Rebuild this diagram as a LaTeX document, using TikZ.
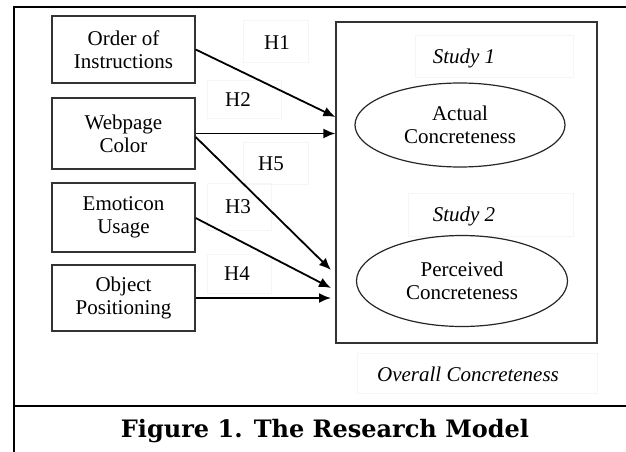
\documentclass[tikz,border=0pt]{standalone}
\usepackage{fontspec}
\setmainfont{Liberation Serif}
\newfontfamily\capfont{DejaVu Serif}
\usetikzlibrary{arrows.meta,shapes.geometric}
\begin{document}
\begin{tikzpicture}[x=1pt,y=-1pt,
  every node/.style={font=\fontsize{21}{23}\selectfont, align=center, inner sep=0pt},
  factor/.style={draw=black!80, line width=1.3pt, minimum width=143pt},
  lbl/.style={draw=black!4, line width=0.6pt},
  conn/.style={line width=1.8pt, -{Latex[length=12pt,width=10pt]}},
  oval/.style={ellipse, draw=black!85, line width=1.2pt},
  frame/.style={line width=2.8pt, line cap=rect}]
\useasboundingbox (0,0) rectangle (626,452);
% outer frame
\draw[frame] (14,452) -- (14,7) -- (626,7);
\draw[frame] (14,406) -- (626,406);
% label backgrounds
\draw[lbl] (243,20) rectangle (308,62);
\draw[lbl] (207,80) rectangle (281,118);
\draw[lbl] (243,142) rectangle (308,184);
\draw[lbl] (207,183) rectangle (271,230);
\draw[lbl] (207,254) rectangle (271,293);
\draw[lbl] (415,35) rectangle (573,77);
\draw[lbl] (408,193) rectangle (573,236);
\draw[lbl] (357,353) rectangle (597,393);
% factor boxes
\node[factor, minimum height=67pt] (b1) at (123.5,49.5) {Order of\\Instructions};
\node[factor, minimum height=71pt] (b2) at (123.5,133.5) {Webpage\\Color};
\node[factor, minimum height=69pt] (b3) at (123.5,217.5) {Emoticon\\Usage};
\node[factor, minimum height=66pt] (b4) at (123.5,298) {Object\\Positioning};
% big box
\node[draw=black!80, line width=1.3pt, minimum width=261pt, minimum height=321pt] (big) at (466.5,182.5) {};
\node (s1) at (464,58) {\itshape Study 1};
\node (s2) at (464,216) {\itshape Study 2};
\node[oval, minimum width=210pt, minimum height=84pt] (e1) at (460,125) {Actual\\Concreteness};
\node[oval, minimum width=211pt, minimum height=91pt] (e2) at (462,281) {Perceived\\Concreteness};
\node (ov) at (468,374) {\itshape Overall Concreteness};
% hypothesis labels
\node (h1) at (277,43) {H1};
\node (h2) at (238,100) {H2};
\node (h5) at (271,164) {H5};
\node (h3) at (238,207) {H3};
\node (h4) at (237,274) {H4};
% connector endpoints
\coordinate (t1) at (big.west |- 0,117);
\coordinate (t2) at (big.west |- 0,133.5);
\coordinate (t5) at (331,270);
\coordinate (t3) at (331,288);
\coordinate (t4) at (331,298);
\coordinate (s5) at ([yshift=-3.5pt]b2.east);
\draw[conn] (b1.east) -- (t1);
\draw[conn] (b2.east) -- (t2);
\draw[conn] (s5) -- (t5);
\draw[conn] ([yshift=-0.5pt]b3.east) -- (t3);
\draw[conn] (b4.east) -- (t4);
% caption
\node[font=\capfont\bfseries\fontsize{24}{26}\selectfont] (cap) at (325,431) {Figure 1. The Research Model};
\end{tikzpicture}
\end{document}
